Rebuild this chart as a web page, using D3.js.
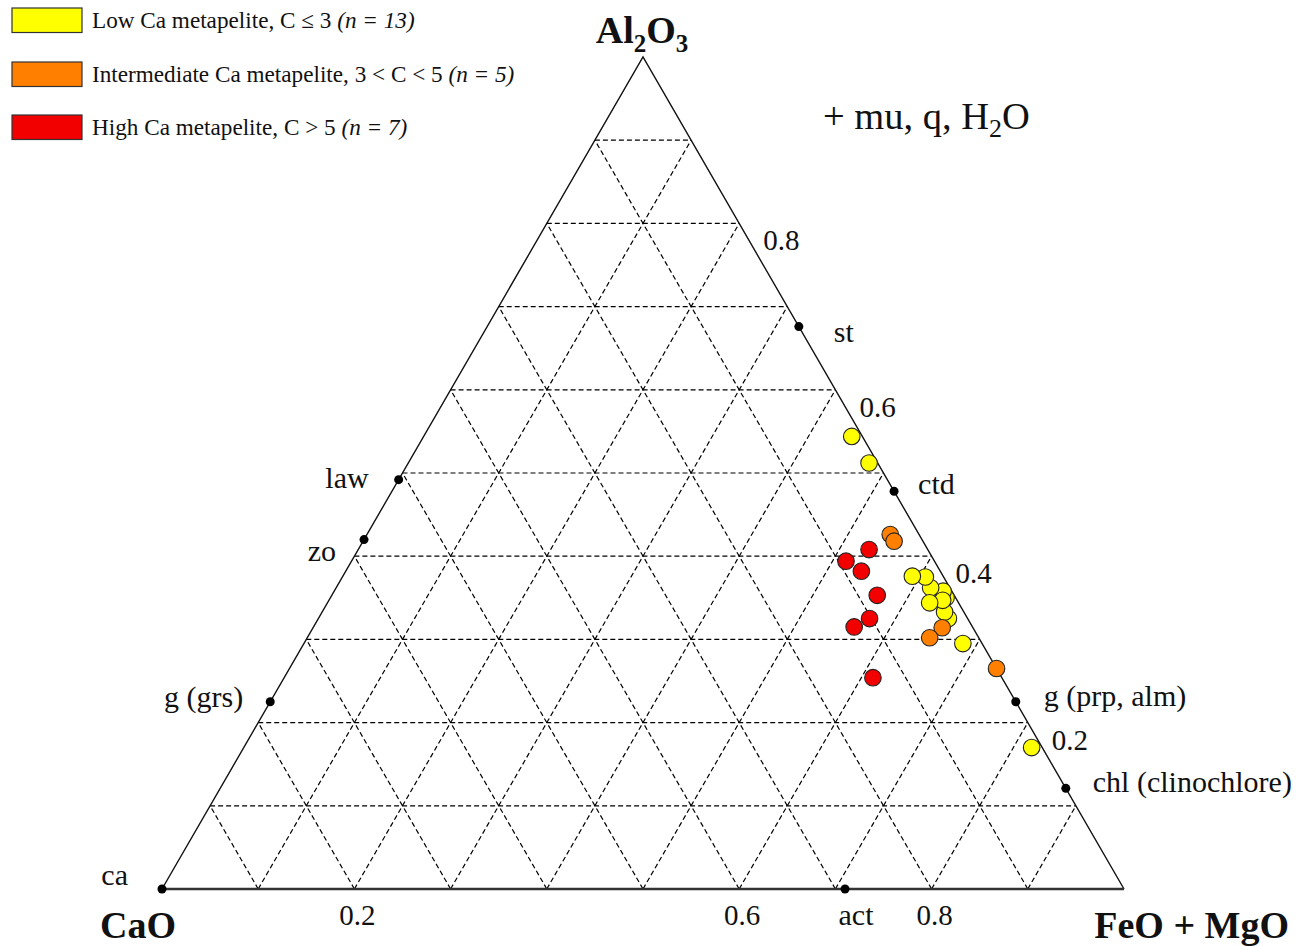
<!DOCTYPE html>
<html>
<head>
<meta charset="utf-8">
<script src="https://cdn.jsdelivr.net/npm/d3@7"></script>
<style>
  html, body { margin: 0; padding: 0; background: #fff; }
  svg { display: block; }
  text { font-family: "Liberation Serif", "Times New Roman", "DejaVu Serif", serif; fill: #111; }
</style>
</head>
<body>
<div id="chart"></div>
<script>
// ---------- DATA (compositions as [Al2O3, CaO, FeO+MgO]) ----------
const apexLabels = ["Al2O3", "CaO", "FeO + MgO"];

const seriesNames = [
  "Low Ca metapelite, C \u2264 3 ",
  "Intermediate Ca metapelite, 3 < C < 5 ",
  "High Ca metapelite, C > 5 "
];
const seriesCounts = ["(n = 13)", "(n = 5)", "(n = 7)"];

const lowCa = [
  [0.350, 0.010, 0.640],
  [0.170, 0.011, 0.819],
  [0.295, 0.020, 0.685],
  [0.325, 0.020, 0.655],
  [0.333, 0.020, 0.647],
  [0.358, 0.009, 0.633],
  [0.347, 0.015, 0.638],
  [0.362, 0.020, 0.618],
  [0.344, 0.030, 0.626],
  [0.375, 0.019, 0.606],
  [0.376, 0.032, 0.592],
  [0.512, 0.009, 0.479],
  [0.544, 0.011, 0.445]
];
const intermediateCa = [
  [0.426, 0.030, 0.544],
  [0.418, 0.030, 0.552],
  [0.314, 0.032, 0.654],
  [0.302, 0.051, 0.647],
  [0.265, 0.000, 0.735]
];
const highCa = [
  [0.408, 0.061, 0.531],
  [0.394, 0.092, 0.514],
  [0.382, 0.082, 0.536],
  [0.353, 0.080, 0.567],
  [0.325, 0.102, 0.573],
  [0.315, 0.123, 0.562],
  [0.254, 0.134, 0.612]
];

const mineralNames = ["st", "ctd", "g (prp, alm)", "chl (clinochlore)", "law", "zo", "g (grs)", "ca", "act"];
const mineralComps = [
  [0.676, 0.000, 0.324],
  [0.478, 0.000, 0.522],
  [0.225, 0.000, 0.775],
  [0.121, 0.000, 0.879],
  [0.492, 0.508, 0.000],
  [0.420, 0.580, 0.000],
  [0.225, 0.775, 0.000],
  [0.000, 1.000, 0.000],
  [0.000, 0.290, 0.710]
];

const gridSteps = [0.1, 0.2, 0.3, 0.4, 0.5, 0.6, 0.7, 0.8, 0.9];
const rightTicks = [0.8, 0.6, 0.4, 0.2];   // Al2O3 read along the right edge
const bottomTicks = [0.2, 0.6, 0.8];       // FeO+MgO read along the base

// ---------- LAYOUT / STYLE ----------
const W = 1309, H = 946;
const V = { A: [643, 57], C: [162, 889], F: [1124, 889] };
const colors = ["#ffff00", "#ff8000", "#f20000"];
// label offsets [dx, dy, anchor] for mineral labels
const mineralLabelLayout = [
  [35, 15, "start"], [24, 3, "start"], [28, 4, "start"], [27, 4, "start"],
  [-30, 8, "end"], [-28, 21, "end"], [-27, 5, "end"], [-34, -4, "end"], [11, 36, "middle"]
];

// ---------- SCALES ----------
const fx = d3.scaleLinear().domain([0, 1]).range([0, V.F[0] - V.C[0]]);
const ax = d3.scaleLinear().domain([0, 1]).range([0, V.A[0] - V.C[0]]);
const ay = d3.scaleLinear().domain([0, 1]).range([V.C[1], V.A[1]]);
function proj(d) {
  const s = d[0] + d[1] + d[2];
  const a = d[0] / s, f = d[2] / s;
  return [V.C[0] + fx(f) + ax(a), ay(a)];
}

const svg = d3.select("#chart").append("svg")
  .attr("width", W).attr("height", H).attr("viewBox", `0 0 ${W} ${H}`);
svg.append("rect").attr("width", W).attr("height", H).attr("fill", "#fff");

// ---------- GRID ----------
const gridLines = [];
gridSteps.forEach(k => {
  gridLines.push([[k, 1 - k, 0], [k, 0, 1 - k]]);   // constant Al2O3
  gridLines.push([[0, 1 - k, k], [1 - k, 0, k]]);   // constant FeO+MgO
  gridLines.push([[0, k, 1 - k], [1 - k, k, 0]]);   // constant CaO
});
const line = d3.line();
svg.append("g").selectAll("path").data(gridLines).join("path")
  .attr("d", d => line(d.map(proj)))
  .attr("fill", "none").attr("stroke", "#000")
  .attr("stroke-width", 1.2).attr("stroke-dasharray", "5,3");

// ---------- TRIANGLE ----------
const edge = svg.append("g").attr("fill", "none");
edge.append("path").attr("d", line([proj([0, 1, 0]), proj([1, 0, 0]), proj([0, 0, 1])]))
  .attr("stroke", "#111").attr("stroke-width", 1.4).attr("stroke-linejoin", "miter");
edge.append("path").attr("d", line([proj([0, 1, 0]), proj([0, 0, 1])]))
  .attr("stroke", "#333").attr("stroke-width", 2.6);

// ---------- TICK LABELS ----------
svg.append("g").selectAll("text").data(rightTicks).join("text")
  .attr("x", d => proj([d, 0, 1 - d])[0] + 24)
  .attr("y", d => proj([d, 0, 1 - d])[1] + 27)
  .attr("font-size", 29)
  .text(d => d.toFixed(1));
svg.append("g").selectAll("text").data(bottomTicks).join("text")
  .attr("x", d => proj([0, 1 - d, d])[0] + 3)
  .attr("y", d => proj([0, 1 - d, d])[1] + 36)
  .attr("text-anchor", "middle")
  .attr("font-size", 29)
  .text(d => d.toFixed(1));

// ---------- MINERAL POINTS ----------
const minerals = mineralNames.map((n, i) => ({ name: n, comp: mineralComps[i], lay: mineralLabelLayout[i] }));
const mg = svg.append("g");
mg.selectAll("circle").data(minerals).join("circle")
  .attr("cx", d => proj(d.comp)[0]).attr("cy", d => proj(d.comp)[1])
  .attr("r", 4.5).attr("fill", "#000");
mg.selectAll("text").data(minerals).join("text")
  .attr("x", d => proj(d.comp)[0] + d.lay[0])
  .attr("y", d => proj(d.comp)[1] + d.lay[1])
  .attr("text-anchor", d => d.lay[2])
  .attr("font-size", 30)
  .text(d => d.name);

// ---------- SAMPLES ----------
[lowCa, intermediateCa, highCa].forEach((series, i) => {
  svg.append("g").selectAll("circle").data(series).join("circle")
    .attr("cx", d => proj(d)[0]).attr("cy", d => proj(d)[1])
    .attr("r", 8.3).attr("fill", colors[i])
    .attr("stroke", "#222").attr("stroke-width", 1.1);
});

// ---------- APEX LABELS ----------
const apexTop = svg.append("text").attr("x", 642).attr("y", 43)
  .attr("text-anchor", "middle").attr("font-size", 38).attr("font-weight", "bold");
apexTop.append("tspan").text("Al");
apexTop.append("tspan").attr("font-size", 25).attr("dy", 9).text("2");
apexTop.append("tspan").attr("dy", -9).text("O");
apexTop.append("tspan").attr("font-size", 25).attr("dy", 9).text("3");

svg.append("text").attr("x", 100).attr("y", 938)
  .attr("font-size", 38).attr("font-weight", "bold").text(apexLabels[1]);
svg.append("text").attr("x", 1289).attr("y", 938).attr("text-anchor", "end")
  .attr("font-size", 38).attr("font-weight", "bold").text(apexLabels[2]);

// ---------- ASSEMBLAGE NOTE ----------
const note = svg.append("text").attr("x", 823).attr("y", 129).attr("font-size", 38.5);
note.append("tspan").text("+ mu, q, H");
note.append("tspan").attr("font-size", 26).attr("dy", 8).text("2");
note.append("tspan").attr("dy", -8).text("O");

// ---------- LEGEND ----------
const legY = [8, 62, 115];
const leg = svg.append("g");
seriesNames.forEach((n, i) => {
  leg.append("rect").attr("x", 12).attr("y", legY[i]).attr("width", 70).attr("height", 24.5)
    .attr("fill", colors[i]).attr("stroke", "#333").attr("stroke-width", 1.2);
  const t = leg.append("text").attr("x", 92).attr("y", legY[i] + 20).attr("font-size", 23.2);
  t.append("tspan").text(n);
  t.append("tspan").attr("font-style", "italic").text(seriesCounts[i]);
});
</script>
</body>
</html>
